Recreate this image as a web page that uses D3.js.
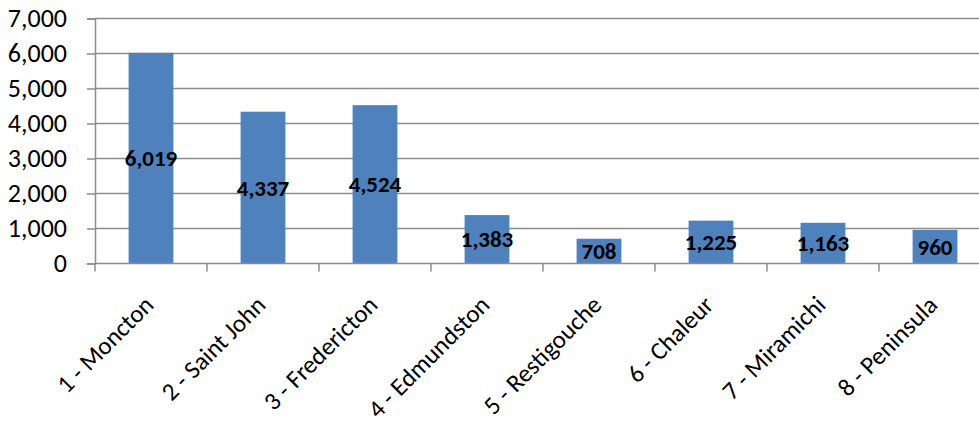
<!DOCTYPE html>
<html>
<head>
<meta charset="utf-8">
<script src="https://cdn.jsdelivr.net/npm/d3@7/dist/d3.min.js"></script>
<style>
  html, body { margin: 0; padding: 0; background: #fff; }
  svg { display: block; }
</style>
</head>
<body>
<svg id="chart" width="979" height="427"></svg>
<script>
// Regions and their values
const categories = ["1 - Moncton", "2 - Saint John", "3 - Fredericton", "4 - Edmundston",
                    "5 - Restigouche", "6 - Chaleur", "7 - Miramichi", "8 - Peninsula"];
const values = [6019, 4337, 4524, 1383, 708, 1225, 1163, 960];
const yTicks = [0, 1000, 2000, 3000, 4000, 5000, 6000, 7000];

const svg = d3.select("#chart");
const plotLeft = 95, plotRight = 991, plotTop = 18.5, plotBottom = 263.5;
const font = "Carlito, Calibri, Lato, sans-serif";
const grey = "#8c8c8c";

const x = d3.scaleBand().domain(categories).range([plotLeft, plotRight]).paddingInner(0.6).paddingOuter(0.3);
const y = d3.scaleLinear().domain([0, 7000]).range([plotBottom, plotTop]);

// Horizontal gridlines
svg.append("g").selectAll("line").data(yTicks.filter(d => d > 0)).join("line")
  .attr("x1", plotLeft).attr("x2", plotRight)
  .attr("y1", d => y(d)).attr("y2", d => y(d))
  .attr("stroke", grey).attr("stroke-width", 1.5);

// Bars
svg.append("g").selectAll("rect").data(values).join("rect")
  .attr("x", (d, i) => x(categories[i]))
  .attr("width", x.bandwidth())
  .attr("y", d => y(d))
  .attr("height", d => y(0) - y(d))
  .attr("fill", "#4F81BD");

// Y axis
const yAxis = svg.append("g").attr("transform", `translate(${plotLeft},0)`)
  .call(d3.axisLeft(y).tickValues(yTicks).tickFormat(d3.format(",")).tickSize(8).tickPadding(20));
yAxis.select(".domain").attr("stroke", grey).attr("stroke-width", 1.5);
yAxis.selectAll(".tick line").attr("stroke", grey).attr("stroke-width", 1.5);
yAxis.selectAll(".tick text").attr("font-family", font).attr("font-size", 26).attr("fill", "#000");

// X axis with ticks at band boundaries
const boundaries = d3.range(categories.length + 1).map(i => plotLeft + i * x.step());
const xg = svg.append("g");
xg.append("line").attr("x1", plotLeft).attr("x2", plotRight).attr("y1", plotBottom).attr("y2", plotBottom)
  .attr("stroke", grey).attr("stroke-width", 1.5);
xg.selectAll("line.t").data(boundaries).join("line").attr("class", "t")
  .attr("x1", d => d).attr("x2", d => d).attr("y1", plotBottom).attr("y2", plotBottom + 8)
  .attr("stroke", grey).attr("stroke-width", 1.5);

// Category labels, rotated
xg.selectAll("text").data(categories).join("text")
  .attr("transform", d => `translate(${x(d) + x.bandwidth() / 2 + 4},${plotBottom + 43}) rotate(-45)`)
  .attr("text-anchor", "end")
  .attr("font-family", font).attr("font-size", 25).attr("fill", "#000")
  .text(d => d);

// Value labels centred in each bar
svg.append("g").selectAll("text").data(values).join("text")
  .attr("x", (d, i) => x(categories[i]) + x.bandwidth() / 2)
  .attr("y", d => (y(d) + y(0)) / 2)
  .attr("dy", "0.35em")
  .attr("text-anchor", "middle")
  .attr("font-family", font).attr("font-weight", "bold").attr("font-size", 23).attr("fill", "#000")
  .text(d => d3.format(",")(d));
</script>
</body>
</html>
